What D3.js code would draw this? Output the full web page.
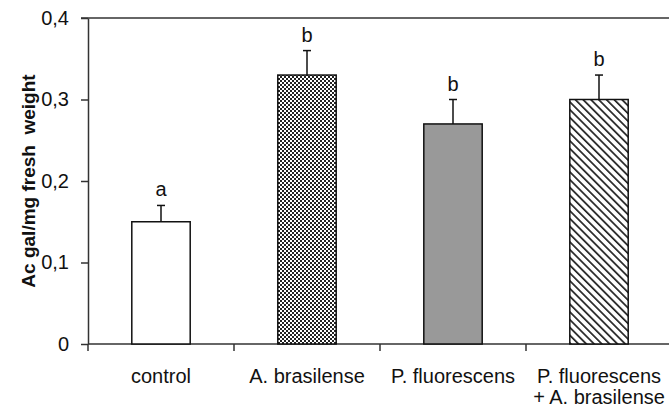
<!DOCTYPE html>
<html>
<head>
<meta charset="utf-8">
<script src="https://cdn.jsdelivr.net/npm/d3@7"></script>
<style>
  body { margin: 0; background: #fff; }
  svg { display: block; }
  text { font-family: "Liberation Sans", Arial, sans-serif; fill: #111; }
</style>
</head>
<body>
<svg id="chart" width="669" height="408"></svg>
<script>
// data
const categories = ["control", "A. brasilense", "P. fluorescens", "P. fluorescens\n+ A. brasilense"];
const means = [0.15, 0.33, 0.27, 0.30];
const errors = [0.02, 0.03, 0.03, 0.03];
const letters = ["a", "b", "b", "b"];
const yTicks = [0, 0.1, 0.2, 0.3, 0.4];
const fills = ["#fff", "url(#checker)", "#999", "url(#hatch)"];

const svg = d3.select("#chart");
const plotLeft = 88, plotRight = 672, plotTop = 18, plotBottom = 344;

const x = d3.scaleBand().domain(categories).range([plotLeft, plotRight]).padding(0);
const y = d3.scaleLinear().domain([0, 0.4]).range([plotBottom, plotTop]);

// patterns
const defs = svg.append("defs");
const checker = defs.append("pattern")
    .attr("id", "checker")
    .attr("patternUnits", "userSpaceOnUse")
    .attr("width", 4).attr("height", 4);
checker.append("rect").attr("width", 4).attr("height", 4).attr("fill", "#fff");
checker.append("rect").attr("width", 2).attr("height", 2).attr("fill", "#222");
checker.append("rect").attr("x", 2).attr("y", 2).attr("width", 2).attr("height", 2).attr("fill", "#222");

const hatch = defs.append("pattern")
    .attr("id", "hatch")
    .attr("patternUnits", "userSpaceOnUse")
    .attr("width", 5.5).attr("height", 5.5)
    .attr("patternTransform", "rotate(-45)");
hatch.append("rect").attr("width", 5.5).attr("height", 5.5).attr("fill", "#fff");
hatch.append("rect").attr("width", 1.7).attr("height", 5.5).attr("fill", "#222");

// top frame line
svg.append("line")
    .attr("x1", plotLeft - 7).attr("x2", 669)
    .attr("y1", y(0.4)).attr("y2", y(0.4))
    .attr("stroke", "#333").attr("stroke-width", 1.5);

// y axis
const yAxis = d3.axisLeft(y)
    .tickValues(yTicks)
    .tickSize(7)
    .tickPadding(12)
    .tickSizeOuter(0)
    .tickFormat(d => d === 0 ? "0" : d3.format(".1f")(d).replace(".", ","));

const gy = svg.append("g")
    .attr("transform", `translate(${plotLeft},0)`)
    .call(yAxis);
gy.select(".domain").attr("stroke", "#333").attr("stroke-width", 1.5);
gy.selectAll(".tick line").attr("stroke", "#333").attr("stroke-width", 1.5);
gy.selectAll(".tick text")
    .style("font-size", "20px")
    .style("font-family", "Liberation Sans, Arial, sans-serif")
    .attr("fill", "#111");

// x axis line and boundary ticks
svg.append("line")
    .attr("x1", plotLeft).attr("x2", 669)
    .attr("y1", plotBottom).attr("y2", plotBottom)
    .attr("stroke", "#333").attr("stroke-width", 1.5);

const boundaries = categories.map(c => x(c)).concat([x(categories[categories.length - 1]) + x.bandwidth()]);
svg.append("g").selectAll("line")
    .data(boundaries)
    .join("line")
    .attr("x1", d => d).attr("x2", d => d)
    .attr("y1", plotBottom).attr("y2", plotBottom + 7)
    .attr("stroke", "#333").attr("stroke-width", 1.5);

// bars
const barW = x.bandwidth() * 0.4;
const cx = c => x(c) + x.bandwidth() / 2;

svg.append("g").selectAll("rect")
    .data(categories)
    .join("rect")
    .attr("x", c => cx(c) - barW / 2)
    .attr("y", (c, i) => y(means[i]))
    .attr("width", barW)
    .attr("height", (c, i) => plotBottom - y(means[i]))
    .attr("fill", (c, i) => fills[i])
    .attr("stroke", "#111")
    .attr("stroke-width", 1.5);

// error bars
const eb = svg.append("g").selectAll("g")
    .data(categories)
    .join("g");
eb.append("line")
    .attr("x1", c => cx(c)).attr("x2", c => cx(c))
    .attr("y1", (c, i) => y(means[i]))
    .attr("y2", (c, i) => y(means[i] + errors[i]))
    .attr("stroke", "#111").attr("stroke-width", 1.5);
eb.append("line")
    .attr("x1", c => cx(c) - 4).attr("x2", c => cx(c) + 4)
    .attr("y1", (c, i) => y(means[i] + errors[i]))
    .attr("y2", (c, i) => y(means[i] + errors[i]))
    .attr("stroke", "#111").attr("stroke-width", 1.5);

// significance letters
svg.append("g").selectAll("text")
    .data(categories)
    .join("text")
    .attr("x", c => cx(c))
    .attr("y", (c, i) => y(means[i] + errors[i]) - 9)
    .attr("text-anchor", "middle")
    .style("font-size", "20px")
    .text((c, i) => letters[i]);

// category labels, one text per line
const labelLines = [];
categories.forEach(c => c.split("\n").forEach((t, k) => labelLines.push({ c, t, k })));

svg.append("g").selectAll("text")
    .data(labelLines)
    .join("text")
    .attr("text-anchor", "middle")
    .attr("x", d => cx(d.c))
    .attr("y", d => 383 + d.k * 21)
    .style("font-size", "20px")
    .text(d => d.t);

// y label
svg.append("text")
    .attr("transform", `translate(35,${(plotTop + plotBottom) / 2}) rotate(-90)`)
    .attr("text-anchor", "middle")
    .style("font-size", "19px")
    .style("font-weight", "bold")
    .style("white-space", "pre")
    .attr("xml:space", "preserve")
    .text("Ac gal/mg fresh  weight");
</script>
</body>
</html>
